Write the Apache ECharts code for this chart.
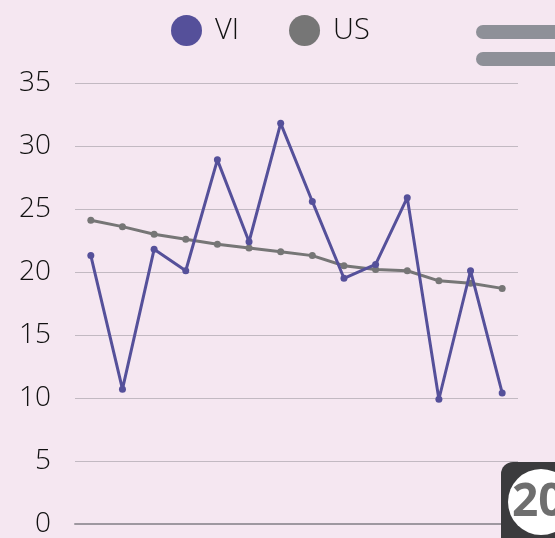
<!DOCTYPE html>
<html>
<head>
<meta charset="utf-8">
<script src="https://cdn.jsdelivr.net/npm/echarts@6/dist/echarts.min.js"></script>
<style>
html,body{margin:0;padding:0;background:#f5e7f1;}
#c{width:555px;height:538px;}
</style>
</head>
<body>
<div id="c"></div>
<script>
const categories = ['1','2','3','4','5','6','7','8','9','10','11','12','13','14'];
const viValues = [21.3, 10.7, 21.8, 20.1, 28.9, 22.4, 31.8, 25.6, 19.5, 20.6, 25.9, 9.9, 20.1, 10.4];
const usValues = [24.1, 23.6, 23.0, 22.6, 22.2, 21.9, 21.6, 21.3, 20.5, 20.2, 20.1, 19.3, 19.1, 18.7];
const yTicks = [0, 5, 10, 15, 20, 25, 30, 35];

const FONT = '"Open Sans"';
const chart = echarts.init(document.getElementById('c'));
chart.setOption({
  backgroundColor: '#f5e7f1',
  animation: false,
  textStyle: {fontFamily: FONT},
  legend: {
    top: 10, left: 166,
    icon: 'circle', itemWidth: 31, itemHeight: 31, itemGap: 50,
    textStyle: {fontSize: 29, color: '#111', fontFamily: FONT, fontWeight: 300, padding: [0, 0, 0, 8]},
    data: ['VI', 'US']
  },
  grid: {left: 75, right: 37, top: 83, bottom: 12, containLabel: false},
  xAxis: {
    type: 'category', data: categories, boundaryGap: true,
    axisLine: {show: true, lineStyle: {color: '#9e98a0', width: 2}},
    axisTick: {show: false}, axisLabel: {show: false}
  },
  yAxis: {
    type: 'value', min: yTicks[0], max: yTicks[yTicks.length - 1], interval: 5,
    axisLine: {show: false}, axisTick: {show: false},
    axisLabel: {fontSize: 28, color: '#111', margin: 24, fontFamily: FONT, fontWeight: 300},
    splitLine: {lineStyle: {color: '#c2b9c2', width: 1}}
  },
  series: [
    {name: 'VI', type: 'line', data: viValues, symbol: 'circle', symbolSize: 7,
     itemStyle: {color: '#55509a'}, lineStyle: {color: '#55509a', width: 3}, z: 3},
    {name: 'US', type: 'line', data: usValues, symbol: 'circle', symbolSize: 7,
     itemStyle: {color: '#767676'}, lineStyle: {color: '#767676', width: 3}, z: 2}
  ],
  graphic: [
    {type: 'rect', shape: {x: 476, y: 25, width: 100, height: 14, r: 7}, style: {fill: '#8e9098'}, z: 10},
    {type: 'rect', shape: {x: 476, y: 52, width: 100, height: 14, r: 7}, style: {fill: '#8e9098'}, z: 10},
    {type: 'rect', shape: {x: 501, y: 462, width: 80, height: 90, r: 12}, style: {fill: '#3b3b3d'}, z: 10},
    {type: 'circle', shape: {cx: 541, cy: 502, r: 33}, style: {fill: '#ffffff'}, z: 11},
    {type: 'text', style: {x: 512, y: 503, text: '20', fill: '#6e6e6e', font: 'bold 46px "Open Sans"', verticalAlign: 'middle'}, z: 12}
  ]
});
</script>
</body>
</html>
